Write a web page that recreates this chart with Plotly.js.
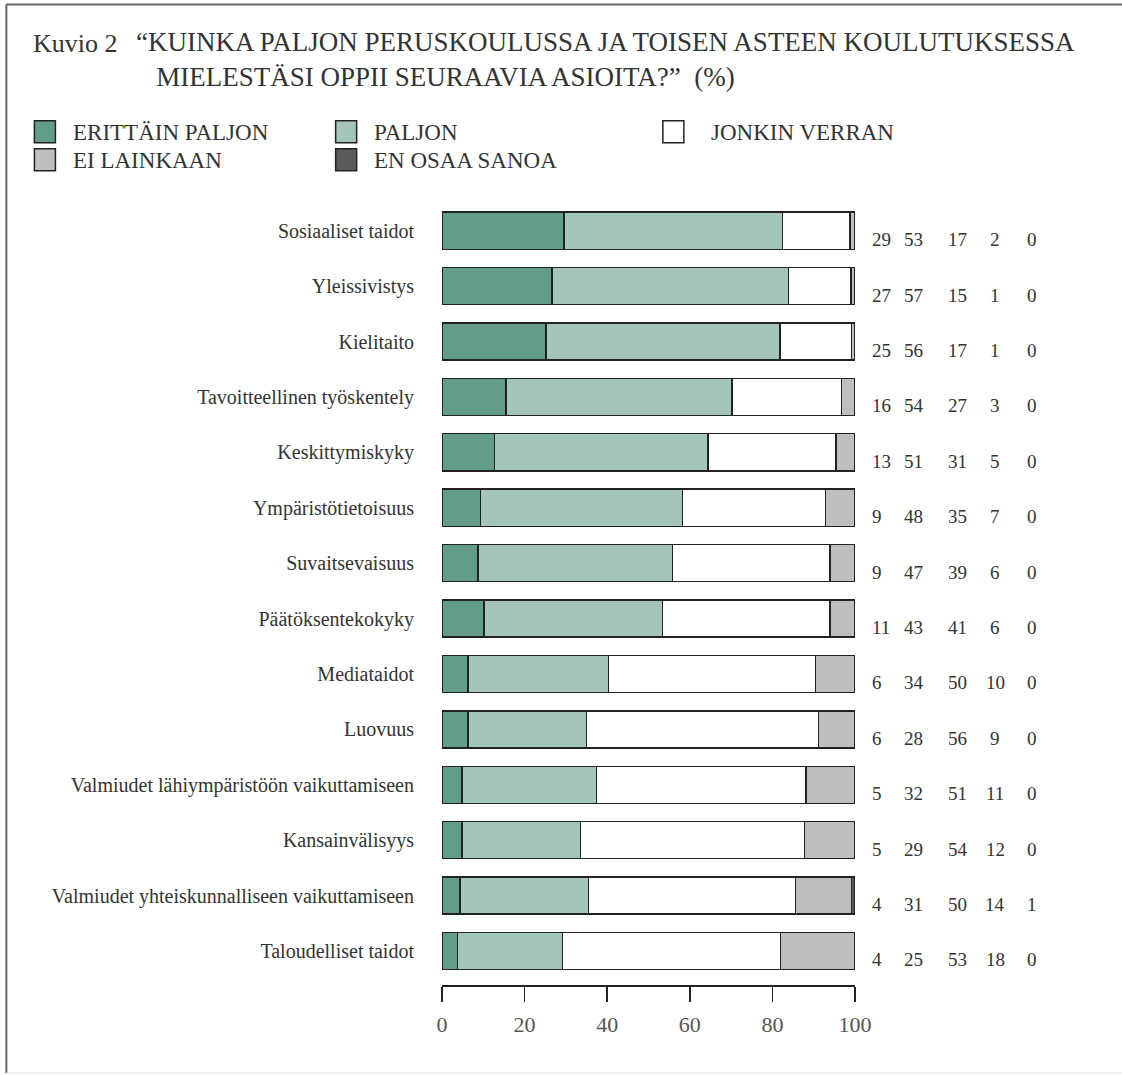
<!DOCTYPE html>
<html>
<head>
<meta charset="utf-8">
<script src="https://cdn.plot.ly/plotly-3.0.1.min.js"></script>
<style>html,body{margin:0;padding:0;background:#fff;}#chart{width:1122px;height:1075px;}</style>
</head>
<body>
<div id="chart"></div>
<script>
// Categories (top to bottom)
const categories = [
  "Sosiaaliset taidot",
  "Yleissivistys",
  "Kielitaito",
  "Tavoitteellinen työskentely",
  "Keskittymiskyky",
  "Ympäristötietoisuus",
  "Suvaitsevaisuus",
  "Päätöksentekokyky",
  "Mediataidot",
  "Luovuus",
  "Valmiudet lähiympäristöön vaikuttamiseen",
  "Kansainvälisyys",
  "Valmiudet yhteiskunnalliseen vaikuttamiseen",
  "Taloudelliset taidot"
];

// Bar segment widths (%)
const erittainPaljon = [29.5, 26.6, 25.2, 15.5, 12.7, 9.3, 8.7, 10.2, 6.3, 6.3, 4.8, 4.8, 4.4, 3.8];
const paljon         = [52.9, 57.3, 56.6, 54.7, 51.7, 48.9, 47.1, 43.2, 34.0, 28.7, 32.6, 28.7, 31.0, 25.4];
const jonkinVerran   = [16.4, 15.1, 17.3, 26.6, 31.0, 34.7, 38.1, 40.5, 50.2, 56.1, 50.7, 54.2, 50.2, 52.8];
const eiLainkaan     = [1.2, 1.0, 0.9, 3.2, 4.6, 7.1, 6.1, 6.1, 9.5, 8.9, 11.9, 12.3, 13.6, 18.0];
const enOsaaSanoa    = [0, 0, 0, 0, 0, 0, 0, 0, 0, 0, 0, 0, 0.8, 0];

// Printed numbers to the right of the bars
const lblErittain = [29, 27, 25, 16, 13, 9, 9, 11, 6, 6, 5, 5, 4, 4];
const lblPaljon   = [53, 57, 56, 54, 51, 48, 47, 43, 34, 28, 32, 29, 31, 25];
const lblJonkin   = [17, 15, 17, 27, 31, 35, 39, 41, 50, 56, 51, 54, 50, 53];
const lblEi       = [2, 1, 1, 3, 5, 7, 6, 6, 10, 9, 11, 12, 14, 18];
const lblEos      = [0, 0, 0, 0, 0, 0, 0, 0, 0, 0, 0, 0, 1, 0];

const seriesNames = ["ERITTÄIN PALJON", "PALJON", "JONKIN VERRAN", "EI LAINKAAN", "EN OSAA SANOA"];
const seriesColors = ["#629d8c", "#a5c5ba", "#ffffff", "#bebebe", "#5a5a5a"];
const xTicks = [0, 20, 40, 60, 80, 100];

const NB = "\u00A0";
const titleText = "“KUINKA PALJON PERUSKOULUSSA JA TOISEN ASTEEN KOULUTUKSESSA<br>" + NB + NB + NB + "MIELESTÄSI OPPII SEURAAVIA ASIOITA?”" + NB + NB + "(%)";

// ---- geometry helpers (pixel -> paper) ----
const FW = 1122, FH = 1075;
const L = 442.3, R = 855, T = 203.3, B = 985;
const px = x => (x - L) / (R - L);
const py = y => (B - y) / (B - T);

const FONT = "Liberation Serif, Times New Roman, serif";
const lineStyle = {color: "#222", width: 1.4};

const seriesData = [erittainPaljon, paljon, jonkinVerran, eiLainkaan, enOsaaSanoa];
const traces = seriesData.map((vals, i) => ({
  type: "bar",
  orientation: "h",
  name: seriesNames[i],
  y: categories,
  x: vals,
  marker: {color: seriesColors[i], line: lineStyle},
  hoverinfo: "name+x"
}));

const annotations = [];
// Number columns
const labelCols = [
  {arr: lblErittain, x: 870, anchor: "left"},
  {arr: lblPaljon, x: 902, anchor: "left"},
  {arr: lblJonkin, x: 946, anchor: "left"},
  {arr: lblEi, x: 995, anchor: "center"},
  {arr: lblEos, x: 1032, anchor: "center"}
];
labelCols.forEach(col => {
  col.arr.forEach((v, i) => {
    annotations.push({
      xref: "paper", yref: "y", x: px(col.x), y: categories[i],
      xanchor: col.anchor, yanchor: "middle", yshift: -9,
      text: String(v), showarrow: false,
      font: {family: FONT, size: 19, color: "#333"}
    });
  });
});

// "Kuvio 2" label
annotations.push({
  xref: "paper", yref: "paper", x: px(32), y: py(44),
  xanchor: "left", yanchor: "middle", showarrow: false,
  text: "Kuvio 2", font: {family: FONT, size: 26, color: "#333"}
});

// Legend (manual)
const legendItems = [
  {i: 0, sx: 35, sy: 132, tx: 72},
  {i: 1, sx: 336, sy: 132, tx: 372},
  {i: 2, sx: 663, sy: 132, tx: 709},
  {i: 3, sx: 35, sy: 160, tx: 72},
  {i: 4, sx: 336, sy: 160, tx: 372}
];
const shapes = [];
legendItems.forEach(it => {
  shapes.push({
    type: "rect", xref: "paper", yref: "paper",
    x0: px(it.sx), x1: px(it.sx + 21), y0: py(it.sy - 11), y1: py(it.sy + 11),
    fillcolor: seriesColors[it.i], line: {color: "#222", width: 1.5}
  });
  annotations.push({
    xref: "paper", yref: "paper", x: px(it.tx), y: py(it.sy + 1),
    xanchor: "left", yanchor: "middle", showarrow: false,
    text: seriesNames[it.i], font: {family: FONT, size: 23, color: "#333"}
  });
});

// Frame
shapes.push({type: "line", xref: "paper", yref: "paper", x0: px(7), x1: px(1130), y0: py(5), y1: py(5), line: {color: "#666", width: 2}});
shapes.push({type: "line", xref: "paper", yref: "paper", x0: px(7), x1: px(7), y0: py(5), y1: py(1073), line: {color: "#666", width: 2}});
shapes.push({type: "line", xref: "paper", yref: "paper", x0: px(7), x1: px(1130), y0: py(1073), y1: py(1073), line: {color: "#ddd", width: 1}});

const layout = {
  width: FW, height: FH,
  margin: {l: L, r: FW - R, t: T, b: FH - B, pad: 0},
  paper_bgcolor: "#fff", plot_bgcolor: "#fff",
  barmode: "stack", bargap: 0.33,
  showlegend: false,
  title: {
    text: titleText,
    x: 136 / FW, xref: "container", xanchor: "left",
    y: 1 - 51 / FH, yref: "container", yanchor: "top",
    font: {family: FONT, size: 27, color: "#333"}
  },
  xaxis: {
    range: [0, 100], tickvals: xTicks, ticktext: xTicks.map(String),
    showgrid: false, zeroline: false,
    showline: true, linecolor: "#222", linewidth: 1.5,
    ticks: "outside", ticklen: 15, tickwidth: 1.5, tickcolor: "#222",
    ticklabelstandoff: 4,
    tickfont: {family: FONT, size: 22, color: "#555"},
    fixedrange: true
  },
  yaxis: {
    type: "category", categoryorder: "array", categoryarray: categories,
    range: [13.614, -0.5],
    showgrid: false, zeroline: false, showline: false, ticks: "",
    ticklabelstandoff: 27,
    tickfont: {family: FONT, size: 20, color: "#333"},
    fixedrange: true
  },
  annotations: annotations,
  shapes: shapes
};

Plotly.newPlot("chart", traces, layout, {displayModeBar: false, staticPlot: true});
</script>
</body>
</html>
